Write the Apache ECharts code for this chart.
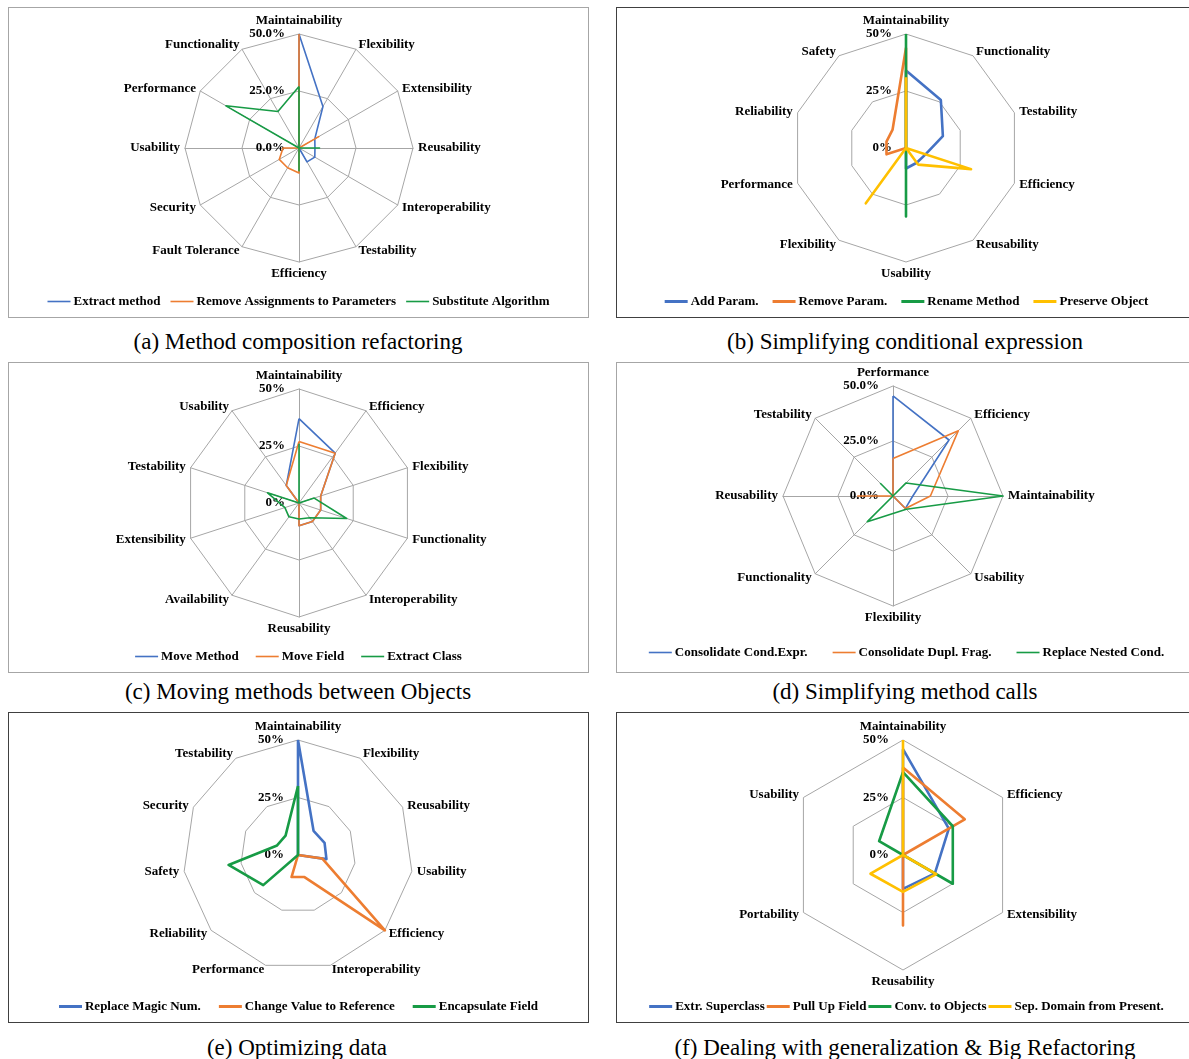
<!DOCTYPE html>
<html>
<head>
<meta charset="utf-8">
<script src="https://cdn.jsdelivr.net/npm/echarts@6/dist/echarts.min.js"></script>
<style>
  html, body { margin: 0; padding: 0; background: #fff; width: 1189px; height: 1059px; overflow: hidden; }
  .panel { position: absolute; box-sizing: border-box; border: 1px solid #a6a6a6; width: 581px; height: 311px; background: #fff; }
  .panel.dark { border-color: #404040; }
  .chart { position: absolute; left: 0; top: 0; width: 579px; height: 309px; }
  .cap { position: absolute; font-family: 'Liberation Serif', 'Times New Roman', serif; font-size: 23px; line-height: 28px; color: #000; white-space: nowrap; transform: translateX(-50%); }
</style>
</head>
<body>
<div class="panel" id="pa" style="left:8px;top:7px;"><div class="chart" id="ca"></div></div>
<div class="panel dark" id="pb" style="left:616px;top:7px;"><div class="chart" id="cb"></div></div>
<div class="panel" id="pc" style="left:8px;top:362px;"><div class="chart" id="cc"></div></div>
<div class="panel" id="pd" style="left:616px;top:362px;"><div class="chart" id="cd"></div></div>
<div class="panel dark" id="pe" style="left:8px;top:712px;"><div class="chart" id="ce"></div></div>
<div class="panel dark" id="pf" style="left:616px;top:712px;"><div class="chart" id="cf"></div></div>

<div class="cap" style="left:298px;top:328px;">(a) Method composition refactoring</div>
<div class="cap" style="left:905px;top:328px;">(b) Simplifying conditional expression</div>
<div class="cap" style="left:298px;top:678px;">(c) Moving methods between Objects</div>
<div class="cap" style="left:905px;top:678px;">(d) Simplifying method calls</div>
<div class="cap" style="left:297px;top:1034px;">(e) Optimizing data</div>
<div class="cap" style="left:905px;top:1034px;">(f) Dealing with generalization &amp; Big Refactoring</div>

<script>
// ---------- DATA ----------
// (a) Method composition refactoring
const axesA = ['Maintainability','Flexibility','Extensibility','Reusability','Interoperability','Testability','Efficiency','Fault Tolerance','Security','Usability','Performance','Functionality'];
const namesA = ['Extract method','Remove Assignments to Parameters','Substitute Algorithm'];
const extractMethod   = [50, 21, 8, 7, 8, 7, 0, 0, 0, 0, 0, 0];
const removeAssign    = [50, 0, 10, 0, 0, 0, 11, 10, 10, 7, 0, 0];
const substituteAlg   = [27, 0, 0, 9, 0, 0, 10, 0, 0, 0, 37, 18.5];

// (b) Simplifying conditional expression
const axesB = ['Maintainability','Functionality','Testability','Efficiency','Reusability','Usability','Flexibility','Performance','Reliability','Safety'];
const namesB = ['Add Param.','Remove Param.','Rename Method','Preserve Object'];
const addParam        = [34, 26, 17, 9, 8, 9, 0, 0, 0, 0];
const removeParam     = [44, 0, 0, 0, 0, 0, 0, 9, 9, 10];
const renameMethod    = [50, 0, 0, 0, 0, 30, 0, 0, 0, 0];
const preserveObject  = [31, 0, 0, 30, 9, 0, 30, 0, 0, 0];

// (c) Moving methods between Objects
const axesC = ['Maintainability','Efficiency','Flexibility','Functionality','Interoperability','Reusability','Availability','Extensibility','Testability','Usability'];
const namesC = ['Move Method','Move Field','Extract Class'];
const moveMethod      = [37, 27, 10, 10, 10, 10, 0, 0, 0, 9.5];
const moveField       = [27, 27, 10, 10, 10, 10, 0, 0, 0, 9.5];
const extractClass    = [26, 0, 7, 22, 8, 7, 7.5, 6.5, 14.5, 0];

// (d) Simplifying method calls
const axesD = ['Performance','Efficiency','Maintainability','Usability','Flexibility','Functionality','Reusability','Testability'];
const namesD = ['Consolidate Cond.Expr.','Consolidate Dupl. Frag.','Replace Nested Cond.'];
const consolidateCond = [45.5, 36, 9, 8, 0, 0, 0, 0];
const consolidateDupl = [17, 42, 17, 8, 0, 0, 16, 0];
const replaceNested   = [0, 8.4, 50, 8.5, 8, 16.5, 0, 8];

// (e) Optimizing data
const axesE = ['Maintainability','Flexibility','Reusability','Usability','Efficiency','Interoperability','Performance','Reliability','Safety','Security','Testability'];
const namesE = ['Replace Magic Num.','Change Value to Reference','Encapsulate Field'];
const replaceMagic    = [50, 12.5, 12.7, 12.5, 0, 0, 0, 0, 0, 0, 0];
const changeValue     = [0, 0, 0, 10.6, 50, 10, 10, 0, 0, 0, 0];
const encapsulate     = [30, 0, 0, 0, 0, 0, 0, 20, 30.5, 10, 10];

// (f) Dealing with generalization & Big Refactoring
const axesF = ['Maintainability','Efficiency','Extensibility','Reusability','Portability','Usability'];
const namesF = ['Extr. Superclass','Pull Up Field','Conv. to Objects','Sep. Domain from Present.'];
const extrSuper       = [46, 23, 16, 14.7, 0, 0];
const pullUp          = [38, 31, 0, 30.6, 0, 0];
const convObjects     = [36, 25, 25, 0, 0, 12];
const sepDomain       = [50, 0, 16.7, 16, 16.3, 0];

const ticksMax = 50;

// ---------- STYLE ----------
const BLUE = '#4472C4', ORANGE = '#ED7D31', GREEN = '#179B45', YELLOW = '#FFC000';
const FONT = "'Liberation Serif', 'Times New Roman', serif";

// ECharts lays radar axes counter-clockwise; the reference runs clockwise,
// so the order after the first axis is reversed.
function cw(arr) { return [arr[0]].concat(arr.slice(1).reverse()); }

function build(cfg) {
  const indicator = cw(cfg.axes).map((n, i) => {
    const o = { name: n, min: 0, max: ticksMax };
    if (i === 0) {
      o.axisLabel = {
        show: true, color: '#000', fontFamily: FONT, fontWeight: 'bold', fontSize: 13,
        margin: 14,
        formatter: v => (cfg.decimals ? Number(v).toFixed(1) : String(v)) + '%'
      };
    }
    return o;
  });
  return {
    animation: false,
    legend: {
      left: cfg.legendLeft || 'center', top: cfg.legendTop || 282,
      icon: 'rect', itemWidth: 23, itemHeight: cfg.lw > 2 ? 3 : 1.6, itemGap: cfg.itemGap || 10,
      selectedMode: false,
      textStyle: { fontFamily: FONT, fontWeight: 'bold', fontSize: 13, color: '#000', padding: [0,0,0,-2] },
      data: cfg.names
    },
    radar: {
      center: cfg.center, radius: cfg.radius, shape: 'polygon', splitNumber: 2,
      startAngle: 90,
      indicator: indicator,
      nameGap: cfg.nameGap || 5,
      axisName: { color: '#000', fontFamily: FONT, fontWeight: 'bold', fontSize: 13 },
      axisLine: { show: cfg.spokes, lineStyle: { color: '#a6a6a6', width: 1 } },
      axisLabel: { show: false },
      axisTick: { show: false },
      splitLine: { lineStyle: { color: '#a6a6a6', width: 1 } },
      splitArea: { show: false }
    },
    series: cfg.series.map((vals, k) => ({
      type: 'radar', symbol: 'none',
      lineStyle: { width: cfg.lw, color: cfg.colors[k] },
      itemStyle: { color: cfg.colors[k] },
      data: [{ name: cfg.names[k], value: cw(vals) }]
    }))
  };
}

const configs = [
  { id: 'ca', axes: axesA, names: namesA, series: [extractMethod, removeAssign, substituteAlg], colors: [BLUE, ORANGE, GREEN], center: [290, 140], radius: 114, lw: 1.6, spokes: true, decimals: true, itemGap: 10 },
  { id: 'cb', axes: axesB, names: namesB, series: [addParam, removeParam, renameMethod, preserveObject], colors: [BLUE, ORANGE, GREEN, YELLOW], center: [289, 140], radius: 114, lw: 2.6, spokes: false, decimals: false, itemGap: 14 },
  { id: 'cc', axes: axesC, names: namesC, series: [moveMethod, moveField, extractClass], colors: [BLUE, ORANGE, GREEN], center: [290, 140], radius: 114, lw: 1.6, spokes: true, decimals: false, itemGap: 17 },
  { id: 'cd', axes: axesD, names: namesD, series: [consolidateCond, consolidateDupl, replaceNested], colors: [BLUE, ORANGE, GREEN], center: [276, 133], radius: 110, lw: 1.6, spokes: true, decimals: true, itemGap: 25, legendTop: 278 },
  { id: 'ce', axes: axesE, names: namesE, series: [replaceMagic, changeValue, encapsulate], colors: [BLUE, ORANGE, GREEN], center: [289, 142], radius: 115, lw: 2.6, spokes: false, decimals: false, itemGap: 18 },
  { id: 'cf', axes: axesF, names: namesF, series: [extrSuper, pullUp, convObjects, sepDomain], colors: [BLUE, ORANGE, GREEN, YELLOW], center: [286, 142], radius: 115, lw: 2.6, spokes: false, decimals: false, itemGap: 2 }
];

configs.forEach(c => {
  const chart = echarts.init(document.getElementById(c.id), null, { renderer: 'canvas' });
  chart.setOption(build(c));
});
</script>
</body>
</html>
